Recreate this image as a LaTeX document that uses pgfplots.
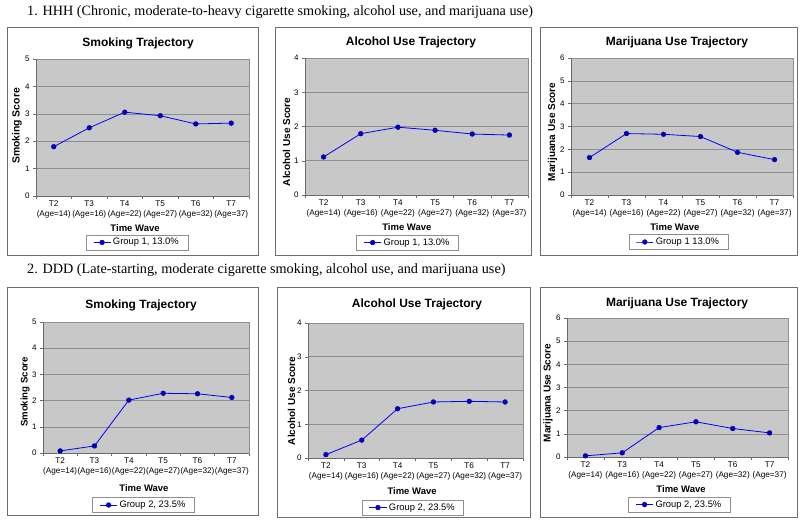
\documentclass[border=0pt]{standalone}
\usepackage{fontspec}
\setmainfont{Liberation Serif}
\newfontfamily\arial{Liberation Sans}
\usepackage{pgfplots}
\pgfplotsset{compat=1.18}
\definecolor{plotbg}{HTML}{C8C8C8}
\definecolor{gridc}{HTML}{8E8E8E}
\definecolor{axisc}{HTML}{6A6A6A}
\definecolor{series}{HTML}{000080}
\definecolor{framec}{HTML}{6E6E6E}

\pgfplotsset{
 excel/.style={
  scale only axis, anchor=south west, clip=false,
  xmin=-0.5, xmax=5.5, ymin=0,
  xtick={0,...,5},
  xticklabels={T2\\(Age=14), T3\\(Age=16), T4\\(Age=22), T5\\(Age=27), T6\\(Age=32), T7\\(Age=37)},
  xticklabel style={align=center, font=\arial\fontsize{8.2}{10}\selectfont, yshift=2pt},
  yticklabel style={font=\arial\fontsize{8}{9}\selectfont},
  /pgf/number format/assume math mode=true,
  ytick distance=1,
  ymajorgrids, major grid style={draw=gridc, line width=0.6pt},
  axis background/.style={fill=plotbg},
  axis line style={draw=gridc, line width=0.6pt},
  tick align=outside, tick pos=left,
  major tick length=3pt,
  tick style={axisc, line width=0.5pt},
  major x tick style={draw=none},
  minor xtick={-0.5,0.5,...,5.5},
  minor tick length=3pt,
  every axis title shift=0pt,
  title style={font=\arial\bfseries\fontsize{12}{14}\selectfont, anchor=center},
  xlabel style={font=\arial\bfseries\fontsize{9.5}{11}\selectfont, anchor=center},
  ylabel style={font=\arial\bfseries\fontsize{10}{12}\selectfont, anchor=center},
  legend style={font=\arial\fontsize{9.4}{11}\selectfont, anchor=center, draw=gridc, fill=white, line width=0.6pt, inner xsep=7pt, inner ysep=1.5pt},
  every axis plot/.append style={draw=series, line width=0.8pt, mark=diamond*, mark size=2.4pt, mark options={fill=series, draw=series, line width=0.4pt}},
  xlabel={Time Wave},
 },
}
\newcommand{\blackaxes}{\draw[axisc, line width=0.6pt] (rel axis cs:0,1) -- (rel axis cs:0,0) -- (rel axis cs:1,0);}

\begin{document}
\begin{tikzpicture}
\useasboundingbox (0pt,0pt) rectangle (800pt,523pt);

\node[anchor=west, font=\fontsize{14.2}{17}\selectfont, inner sep=0pt] at (27pt,511pt) {1. HHH (Chronic, moderate-to-heavy cigarette smoking, alcohol use, and marijuana use)};
\node[anchor=west, font=\fontsize{14.2}{17}\selectfont, inner sep=0pt] at (27pt,253pt) {2. DDD (Late-starting, moderate cigarette smoking, alcohol use, and marijuana use)};

\draw[framec, line width=0.8pt] (7pt,268pt) rectangle (258pt,496pt);
\draw[framec, line width=0.8pt] (275pt,268pt) rectangle (531pt,496pt);
\draw[framec, line width=0.8pt] (540pt,268pt) rectangle (797pt,496pt);
\draw[framec, line width=0.8pt] (7pt,8pt) rectangle (258pt,236pt);
\draw[framec, line width=0.8pt] (277pt,6pt) rectangle (530pt,236pt);
\draw[framec, line width=0.8pt] (540pt,6pt) rectangle (797pt,236pt);

% Panel 1
\begin{axis}[excel, at={(36pt,327pt)}, width=213pt, height=137pt, ymax=5,
  title={Smoking Trajectory}, title style={at={(axis description cs:0.479,1.117)}},
  xlabel style={at={(axis description cs:0.465,-0.234)}},
  ylabel={Smoking Score}, ylabel style={at={(axis description cs:-0.089,0.511)}, font=\arial\bfseries\fontsize{10.4}{12}\selectfont},
  legend style={at={(axis description cs:0.474,-0.339)}}]
\addplot coordinates {(0,1.80)(1,2.49)(2,3.06)(3,2.93)(4,2.63)(5,2.66)};
\addlegendentry{Group 1, 13.0\%}
\blackaxes
\end{axis}

% Panel 2
\begin{axis}[excel, at={(305pt,328pt)}, width=223pt, height=137pt, ymax=4,
  title={Alcohol Use Trajectory}, title style={at={(axis description cs:0.475,1.117)}},
  xlabel style={at={(axis description cs:0.457,-0.234)}},
  ylabel={Alcohol Use Score}, ylabel style={at={(axis description cs:-0.083,0.387)}},
  legend style={at={(axis description cs:0.460,-0.347)}}]
\addplot coordinates {(0,1.11)(1,1.79)(2,1.98)(3,1.89)(4,1.78)(5,1.75)};
\addlegendentry{Group 1, 13.0\%}
\blackaxes
\end{axis}

% Panel 3
\begin{axis}[excel, at={(571pt,328pt)}, width=222pt, height=137pt, ymax=6,
  title={Marijuana Use Trajectory}, title style={at={(axis description cs:0.477,1.117)}},
  xlabel style={at={(axis description cs:0.468,-0.234)}},
  ylabel={Marijuana Use Score}, ylabel style={at={(axis description cs:-0.083,0.460)}},
  legend style={at={(axis description cs:0.484,-0.343)}}]
\addplot coordinates {(0,1.64)(1,2.69)(2,2.66)(3,2.56)(4,1.87)(5,1.55)};
\addlegendentry{Group 1 13.0\%}
\blackaxes
\end{axis}

% Panel 4
\begin{axis}[excel, at={(43pt,70pt)}, width=206pt, height=131pt, ymax=5,
  title={Smoking Trajectory}, title style={at={(axis description cs:0.476,1.130)}},
  xlabel style={at={(axis description cs:0.490,-0.267)}},
  ylabel={Smoking Score}, ylabel style={at={(axis description cs:-0.087,0.466)}, font=\arial\bfseries\fontsize{9.6}{11}\selectfont},
  legend style={at={(axis description cs:0.488,-0.397)}}]
\addplot coordinates {(0,0.08)(1,0.27)(2,2.02)(3,2.28)(4,2.26)(5,2.12)};
\addlegendentry{Group 2, 23.5\%}
\blackaxes
\end{axis}

% Panel 5
\begin{axis}[excel, at={(308pt,65pt)}, width=215pt, height=135pt, ymax=4,
  title={Alcohol Use Trajectory}, title style={at={(axis description cs:0.507,1.141)}},
  xlabel style={at={(axis description cs:0.484,-0.244)}},
  ylabel={Alcohol Use Score}, ylabel style={at={(axis description cs:-0.077,0.422)}},
  legend style={at={(axis description cs:0.488,-0.367)}}]
\addplot coordinates {(0,0.10)(1,0.53)(2,1.46)(3,1.66)(4,1.68)(5,1.66)};
\addlegendentry{Group 2, 23.5\%}
\blackaxes
\end{axis}

% Panel 6
\begin{axis}[excel, at={(567pt,66pt)}, width=221pt, height=139pt, ymax=6,
  title={Marijuana Use Trajectory}, title style={at={(axis description cs:0.498,1.108)}},
  xlabel style={at={(axis description cs:0.516,-0.230)}},
  ylabel={Marijuana Use Score}, ylabel style={at={(axis description cs:-0.086,0.460)}},
  legend style={at={(axis description cs:0.509,-0.342)}}]
\addplot coordinates {(0,0.05)(1,0.18)(2,1.27)(3,1.52)(4,1.23)(5,1.04)};
\addlegendentry{Group 2, 23.5\%}
\blackaxes
\end{axis}
\end{tikzpicture}
\end{document}
